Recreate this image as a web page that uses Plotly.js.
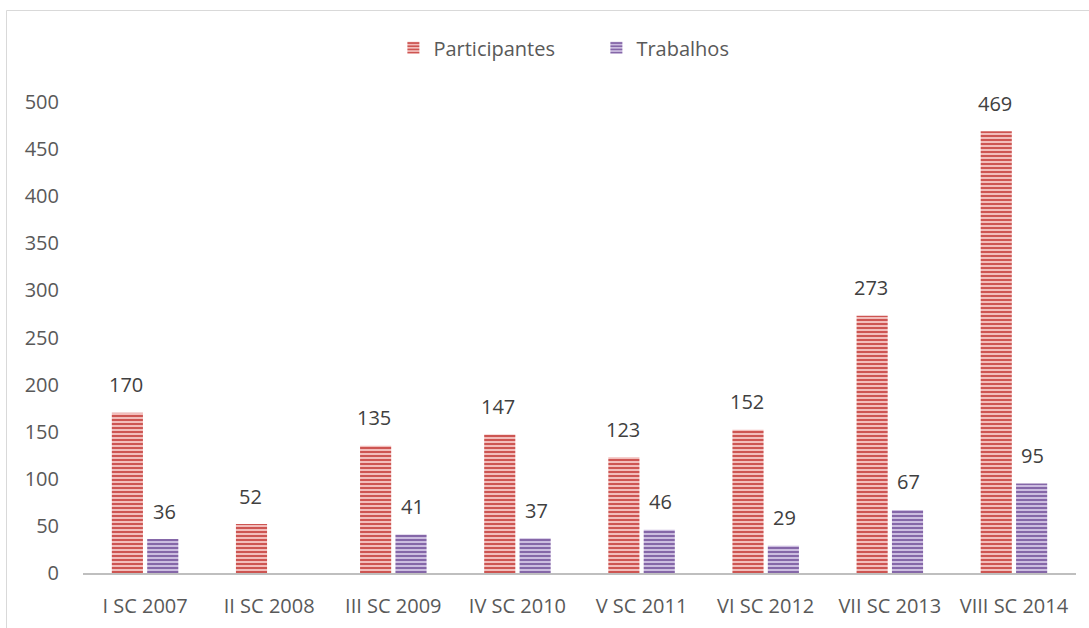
<!DOCTYPE html>
<html>
<head>
<meta charset="utf-8">
<script src="https://cdn.plot.ly/plotly-3.0.1.min.js"></script>
<style>
html,body{margin:0;padding:0;background:#fff;}
#chart{width:1089px;height:628px;}
</style>
</head>
<body>
<div id="chart"></div>
<script>
var categories = ["I SC 2007","II SC 2008","III SC 2009","IV SC 2010","V SC 2011","VI SC 2012","VII SC 2013","VIII SC 2014"];
var participantes = [170, 52, 135, 147, 123, 152, 273, 469];
var trabalhos = [36, null, 41, 37, 46, 29, 67, 95];
var yTicks = [0,50,100,150,200,250,300,350,400,450,500];

var FONT = "'Open Sans', sans-serif";

var traces = [
  {
    type: "bar", name: "Participantes", x: categories, y: participantes,
    marker: {
      color: "#E39A98",
      line: {width: 0},
      pattern: {shape: "-", fgcolor: "#CD5552", bgcolor: "#F2BDBB", size: 4, solidity: 0.5}
    },
    hoverinfo: "x+y"
  },
  {
    type: "bar", name: "Trabalhos", x: categories, y: trabalhos,
    marker: {
      color: "#A893C4",
      line: {width: 0},
      pattern: {shape: "-", fgcolor: "#8567A8", bgcolor: "#CCBDE0", size: 4, solidity: 0.5}
    },
    hoverinfo: "x+y"
  }
];

var annotations = [];
function addLabels(vals, shift){
  vals.forEach(function(v, i){
    if (v === null || v === undefined) return;
    annotations.push({
      x: categories[i], y: v, xref: "x", yref: "y",
      text: String(v), showarrow: false,
      xshift: shift, yshift: 28, yanchor: "middle",
      font: {family: FONT, size: 20, color: "#404040"}
    });
  });
}
addLabels(participantes, -19);
addLabels(trabalhos, 19);

var layout = {
  width: 1089, height: 628,
  margin: {l: 83, r: 13, t: 102, b: 55},
  paper_bgcolor: "#fff", plot_bgcolor: "#fff",
  barmode: "group", bargap: 0.43, bargroupgap: 0.12,
  font: {family: FONT, size: 20, color: "#595959"},
  showlegend: true,
  legend: {orientation: "h", x: 0.517, xanchor: "center", y: 1.115, yanchor: "middle",
           font: {family: FONT, size: 20, color: "#595959"}, itemwidth: 30,
           entrywidth: 158, entrywidthmode: "pixels"},
  xaxis: {
    type: "category", showgrid: false, zeroline: false,
    showline: true, linecolor: "#BFBFBF", linewidth: 2,
    ticks: "", ticklabelstandoff: 14,
    tickfont: {family: FONT, size: 20, color: "#595959"}
  },
  yaxis: {
    range: [0, 500], tickvals: yTicks, showgrid: false, zeroline: false,
    showline: false, ticks: "", ticklabelstandoff: 23,
    tickfont: {family: FONT, size: 20, color: "#595959"}
  },
  annotations: annotations,
  shapes: [{
    type: "rect", xref: "paper", yref: "paper", layer: "below",
    x0: (6.5 - 83) / 993, x1: (1095 - 83) / 993,
    y0: -(640 - 573) / 471, y1: 1 + (102 - 10.5) / 471,
    line: {color: "#D9D9D9", width: 1}
  }]
};

Plotly.newPlot("chart", traces, layout, {displayModeBar: false, staticPlot: true});
</script>
</body>
</html>
